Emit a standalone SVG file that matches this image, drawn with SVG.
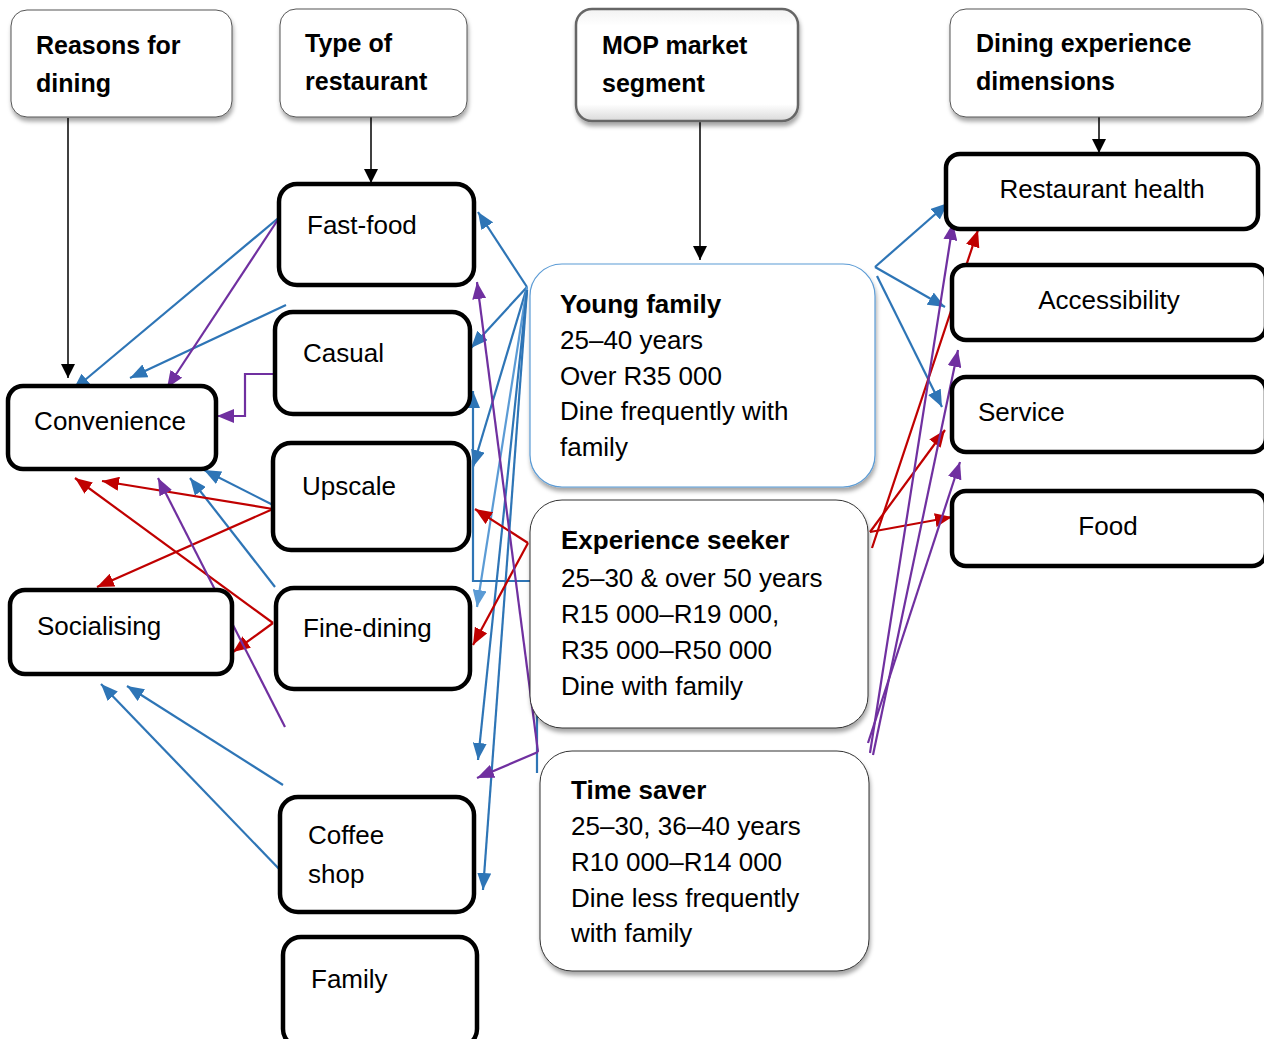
<svg xmlns="http://www.w3.org/2000/svg" width="1264" height="1039" viewBox="0 0 1264 1039">
<style>
text{font-family:"Liberation Sans",Arial,sans-serif;fill:#000}
.hd{font-weight:bold;font-size:25px}
.nl{font-size:26px}
.mt{font-size:26px}
.mb{font-size:26px;font-weight:bold}
.hbox{fill:#fff;stroke:#555;stroke-width:1}
.node{fill:#fff;stroke:#000;stroke-width:4.5}
.mid{fill:#fff;stroke:#333;stroke-width:1}
.k{stroke:#000;stroke-width:1.5;fill:none;marker-end:url(#mk)}
.b{stroke:#2e75b6;stroke-width:2.2;fill:none;marker-end:url(#mb)}
.bl{stroke:#5b9bd5;stroke-width:2.2;fill:none;marker-end:url(#mbl)}
.r{stroke:#c00000;stroke-width:2.2;fill:none;marker-end:url(#mr)}
.p{stroke:#7030a0;stroke-width:2.2;fill:none;marker-end:url(#mp)}
</style>
<defs>
<marker id="mk" markerUnits="userSpaceOnUse" markerWidth="14" markerHeight="14" refX="14" refY="7" orient="auto"><path d="M0,0 L14,7 L0,14 z" fill="#000"/></marker>
<marker id="mb" markerUnits="userSpaceOnUse" markerWidth="17" markerHeight="14" refX="17" refY="7" orient="auto"><path d="M0,0 L17,7 L0,14 z" fill="#2e75b6"/></marker>
<marker id="mbl" markerUnits="userSpaceOnUse" markerWidth="17" markerHeight="14" refX="17" refY="7" orient="auto"><path d="M0,0 L17,7 L0,14 z" fill="#5b9bd5"/></marker>
<marker id="mr" markerUnits="userSpaceOnUse" markerWidth="17" markerHeight="14" refX="17" refY="7" orient="auto"><path d="M0,0 L17,7 L0,14 z" fill="#c00000"/></marker>
<marker id="mp" markerUnits="userSpaceOnUse" markerWidth="17" markerHeight="14" refX="17" refY="7" orient="auto"><path d="M0,0 L17,7 L0,14 z" fill="#7030a0"/></marker>
<filter id="sh" x="-10%" y="-10%" width="125%" height="130%">
<feDropShadow dx="1" dy="4" stdDeviation="2" flood-color="#000" flood-opacity="0.35"/>
</filter>
<linearGradient id="mopg" x1="0" y1="0" x2="0" y2="1">
<stop offset="0" stop-color="#f2f2f2"/>
<stop offset="0.15" stop-color="#ffffff"/>
<stop offset="0.85" stop-color="#ffffff"/>
<stop offset="1" stop-color="#d9d9d9"/>
</linearGradient>
</defs>

<g id="connectors">
<path class="k" d="M68,118 V378"/>
<path class="k" d="M371,117 V183"/>
<path class="k" d="M700,121 V260"/>
<path class="k" d="M1099,117 V153"/>

<path class="b" d="M527,287 L478,212"/>
<path class="b" d="M527,287 L471,348"/>
<path class="b" d="M527,287 L473,467"/>
<path class="bl" d="M527,287 L477,607"/>
<path class="b" d="M527,290 L478,760"/>
<path class="b" d="M527,290 L483,890"/>
<path class="b" d="M537,773 V581 H473 V391"/>
<path class="b" d="M282,215 L73,390"/>
<path class="b" d="M286,305 L130,378"/>
<path class="b" d="M273,505 L204,470"/>
<path class="b" d="M275,587 L190,478"/>
<path class="b" d="M283,785 L127,686"/>
<path class="b" d="M282,872 L101,684"/>
<path class="b" d="M875,267 L948,203"/>
<path class="b" d="M875,267 L945,307"/>
<path class="b" d="M877,276 L942,407"/>

<path class="r" d="M273,509 L102,481"/>
<path class="r" d="M273,509 L97,587"/>
<path class="r" d="M273,623 L75,478"/>
<path class="r" d="M273,623 L233,652"/>
<path class="r" d="M528,543 L475,509"/>
<path class="r" d="M528,543 L473,645"/>
<path class="r" d="M872,548 L978,230"/>
<path class="r" d="M870,532 L945,430"/>
<path class="r" d="M870,532 L952,517"/>

<path class="p" d="M281,215 L167,388"/>
<path class="p" d="M273,374 H245 V416 H217"/>
<path class="p" d="M285,727 L158,478"/>
<path class="p" d="M538,752 L477,282"/>
<path class="p" d="M538,752 L477,778"/>
<path class="p" d="M870,753 L953,223"/>
<path class="p" d="M873,755 L958,350"/>
<path class="p" d="M868,743 L960,462"/>
</g>

<g id="hdr-reasons">
<rect class="hbox" x="11" y="10" width="221" height="107" rx="16" filter="url(#sh)"/>
<text class="hd" x="36" y="54">Reasons for</text>
<text class="hd" x="36" y="92">dining</text>
</g>
<g id="hdr-type">
<rect class="hbox" x="280" y="9" width="187" height="108" rx="16" filter="url(#sh)"/>
<text class="hd" x="305" y="52">Type of</text>
<text class="hd" x="305" y="90">restaurant</text>
</g>
<g id="hdr-mop">
<rect x="576" y="9" width="222" height="112" rx="16" fill="url(#mopg)" stroke="#666" stroke-width="2.5" filter="url(#sh)"/>
<text class="hd" x="602" y="54">MOP market</text>
<text class="hd" x="602" y="92">segment</text>
</g>
<g id="hdr-dining">
<rect class="hbox" x="950" y="9" width="312" height="108" rx="16" filter="url(#sh)"/>
<text class="hd" x="976" y="52">Dining experience</text>
<text class="hd" x="976" y="90">dimensions</text>
</g>

<g id="n-convenience">
<rect class="node" x="8" y="386" width="208" height="83" rx="15"/>
<text class="nl" x="110" y="430" text-anchor="middle">Convenience</text>
</g>
<g id="n-socialising">
<rect class="node" x="10" y="590" width="222" height="84" rx="15"/>
<text class="nl" x="37" y="635">Socialising</text>
</g>
<g id="n-fastfood">
<rect class="node" x="279" y="184" width="195" height="101" rx="18"/>
<text class="nl" x="307" y="234">Fast-food</text>
</g>
<g id="n-casual">
<rect class="node" x="275" y="312" width="195" height="102" rx="18"/>
<text class="nl" x="303" y="362">Casual</text>
</g>
<g id="n-upscale">
<rect class="node" x="273" y="443" width="196" height="107" rx="18"/>
<text class="nl" x="302" y="495">Upscale</text>
</g>
<g id="n-finedining">
<rect class="node" x="276" y="588" width="194" height="101" rx="18"/>
<text class="nl" x="303" y="637">Fine-dining</text>
</g>
<g id="n-coffee">
<rect class="node" x="280" y="797" width="194" height="115" rx="18"/>
<text class="nl" x="308" y="844">Coffee</text>
<text class="nl" x="308" y="883">shop</text>
</g>
<g id="n-family">
<rect class="node" x="283" y="937" width="194" height="110" rx="18"/>
<text class="nl" x="311" y="988">Family</text>
</g>

<g id="n-young">
<rect x="530" y="264" width="345" height="223" rx="32" fill="#fff" stroke="#5b9bd5" stroke-width="1.2" filter="url(#sh)"/>
<text class="mb" x="560" y="313">Young family</text>
<text class="mt" x="560" y="349">25–40 years</text>
<text class="mt" x="560" y="385">Over R35 000</text>
<text class="mt" x="560" y="420">Dine frequently with</text>
<text class="mt" x="560" y="456">family</text>
</g>
<g id="n-experience">
<rect class="mid" x="530" y="500" width="338" height="228" rx="32" filter="url(#sh)"/>
<text class="mb" x="561" y="549">Experience seeker</text>
<text class="mt" x="561" y="587">25–30 &amp; over 50 years</text>
<text class="mt" x="561" y="623">R15 000–R19 000,</text>
<text class="mt" x="561" y="659">R35 000–R50 000</text>
<text class="mt" x="561" y="695">Dine with family</text>
</g>
<g id="n-timesaver">
<rect class="mid" x="540" y="751" width="329" height="220" rx="32" filter="url(#sh)"/>
<text class="mb" x="571" y="799">Time saver</text>
<text class="mt" x="571" y="835">25–30, 36–40 years</text>
<text class="mt" x="571" y="871">R10 000–R14 000</text>
<text class="mt" x="571" y="907">Dine less frequently</text>
<text class="mt" x="571" y="942">with family</text>
</g>

<g id="n-health">
<rect class="node" x="946" y="154" width="312" height="75" rx="14"/>
<text class="nl" x="1102" y="198" text-anchor="middle">Restaurant health</text>
</g>
<g id="n-access">
<rect class="node" x="952" y="265" width="314" height="75" rx="14"/>
<text class="nl" x="1109" y="309" text-anchor="middle">Accessibility</text>
</g>
<g id="n-service">
<rect class="node" x="952" y="377" width="314" height="75" rx="14"/>
<text class="nl" x="978" y="421">Service</text>
</g>
<g id="n-food">
<rect class="node" x="952" y="491" width="314" height="75" rx="14"/>
<text class="nl" x="1108" y="535" text-anchor="middle">Food</text>
</g>
</svg>
